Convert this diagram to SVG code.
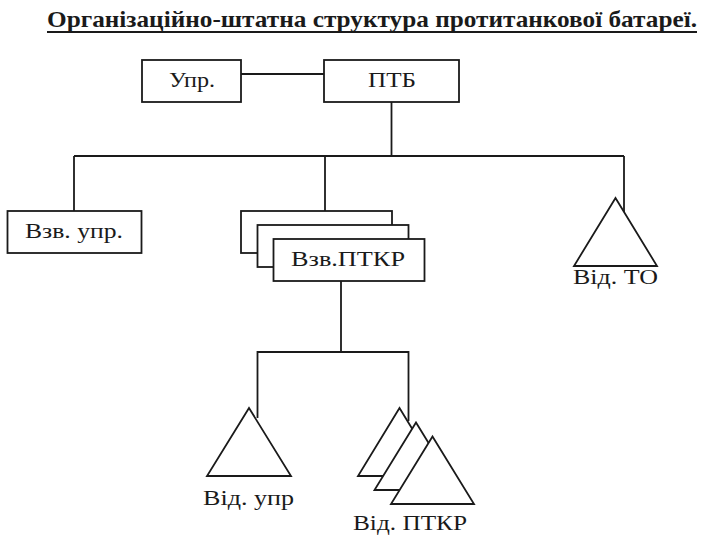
<svg xmlns="http://www.w3.org/2000/svg" width="720" height="540" viewBox="0 0 720 540">
<style>
.s{fill:#fff;stroke:#1a1a1a;stroke-width:1.8}
.l{fill:none;stroke:#1a1a1a;stroke-width:1.8}
.t{font-size:22px;fill:#1a1a1a;text-anchor:middle}
.h{font-size:23px;font-weight:bold;fill:#1a1a1a}
</style>
<rect width="720" height="540" fill="#fff"/>
<g font-family="Times New Roman, Liberation Serif, DejaVu Serif, Noto Serif, serif">
<g id="title">
<text class="h" x="47" y="27" textLength="650" lengthAdjust="spacingAndGlyphs">Організаційно-штатна структура протитанкової батареї.</text>
<line x1="47" y1="32" x2="697" y2="32" stroke="#1a1a1a" stroke-width="2"/>
</g>
<g id="connectors">
<path class="l" d="M241 74H324"/>
<path class="l" d="M391.5 102V156"/>
<path class="l" d="M74 156H624"/>
<path class="l" d="M74 156V211"/>
<path class="l" d="M325 156V211"/>
<path class="l" d="M624 156V212"/>
<path class="l" d="M341 281V352H257.5V418"/>
<path class="l" d="M341 352H408.5V421"/>
</g>
<g id="upr">
<rect class="s" x="142" y="60" width="99" height="42"/>
<text class="t" x="192" y="87" textLength="46" lengthAdjust="spacingAndGlyphs">Упр.</text>
</g>
<g id="ptb">
<rect class="s" x="324" y="60" width="135" height="42"/>
<text class="t" x="392" y="87" textLength="48" lengthAdjust="spacingAndGlyphs">ПТБ</text>
</g>
<g id="vzv-upr">
<rect class="s" x="7.5" y="211" width="134" height="42"/>
<text class="t" x="74" y="238" textLength="98" lengthAdjust="spacingAndGlyphs">Взв. упр.</text>
</g>
<g id="vzv-ptkr">
<rect class="s" x="241" y="211" width="151" height="42"/>
<rect class="s" x="257.5" y="225" width="151" height="42"/>
<rect class="s" x="273.5" y="239" width="151" height="42"/>
<text class="t" x="348" y="266" textLength="114" lengthAdjust="spacingAndGlyphs">Взв.ПТКР</text>
</g>
<g id="vid-to">
<polygon class="s" points="615.5,198 657,266 574,266"/>
<text class="t" x="615.5" y="284" textLength="85" lengthAdjust="spacingAndGlyphs">Від. ТО</text>
</g>
<g id="vid-upr">
<polygon class="s" points="249,408 291,476 207,476"/>
<text class="t" x="248.5" y="505" textLength="91" lengthAdjust="spacingAndGlyphs">Від. упр</text>
</g>
<g id="vid-ptkr">
<polygon class="s" points="399.5,408 441,476 358,476"/>
<polygon class="s" points="416,422.5 457.5,490 374.5,490"/>
<polygon class="s" points="432.5,436.5 474,504 391,504"/>
<text class="t" x="410" y="530" textLength="114" lengthAdjust="spacingAndGlyphs">Від. ПТКР</text>
</g>
</g>
</svg>
